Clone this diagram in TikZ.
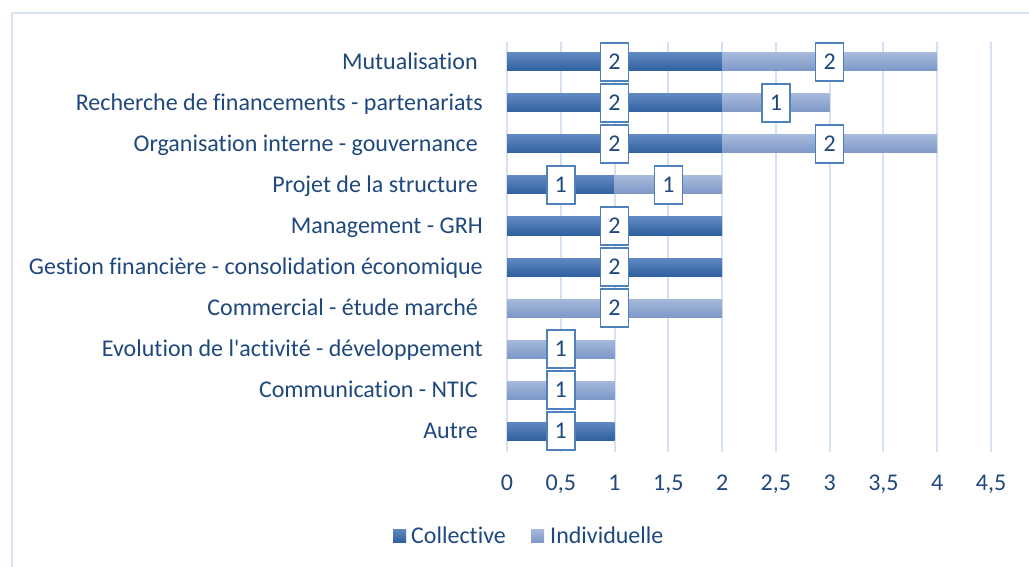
\documentclass[tikz,border=0pt]{standalone}
\usepackage{fontspec}
\setmainfont{Carlito}[Ligatures={TeXOff,NoCommon}]
\definecolor{txt}{HTML}{1F497D}
\definecolor{gridc}{HTML}{D4E1F4}
\definecolor{framec}{HTML}{D9E4F3}
\definecolor{colltop}{HTML}{6089C1}
\definecolor{collbot}{HTML}{30609F}
\definecolor{indtop}{HTML}{A6B9DC}
\definecolor{indbot}{HTML}{7D97C7}
\definecolor{boxc}{HTML}{4F81BD}
\begin{document}
\begin{tikzpicture}[x=1pt,y=-1pt,
  every node/.style={text=txt,font=\fontsize{24}{28}\selectfont},
  gridline/.style={draw=gridc,line width=2pt},
  framel/.style={draw=framec,line width=2pt},
  collbar/.style={top color=colltop,bottom color=collbot},
  indbar/.style={top color=indtop,bottom color=indbot},
  valbox/.style={draw=boxc,fill=white,line width=1.6pt,minimum width=28pt,minimum height=38pt,inner sep=0pt},
  catlab/.style={anchor=base east,inner sep=0pt},
  axlab/.style={anchor=base,inner sep=0pt},
]
\useasboundingbox (0,0) rectangle (1029,567);
\fill[white] (0,0) rectangle (1029,567);
\draw[framel] (12,567) -- (12,13) -- (1029,13);
\foreach \k in {0,...,9} \draw[gridline] ({507+53.78*\k},42) -- ({507+53.78*\k},452);
% rows: index / collective / individual / label right end / text
\foreach \i/\c/\d/\e/\t in {
  0/2/2/478/Mutualisation,
  1/2/1/483/Recherche de financements - partenariats,
  2/2/2/478/Organisation interne - gouvernance,
  3/1/1/478/Projet de la structure,
  4/2/0/483/Management - GRH,
  5/2/0/483/Gestion financière - consolidation économique,
  6/0/2/478/Commercial - étude marché,
  7/0/1/483/Evolution de l'activité - développement,
  8/0/1/478/Communication - NTIC,
  9/1/0/478/Autre}{
  \pgfmathsetmacro{\yy}{62+41*\i}
  \node[catlab] (cat\i) at (\e,\yy+7.5) {\t};
  \ifnum\c>0
    \shade[collbar] (507,\yy-9) rectangle ({507+107.56*\c},\yy+9);
  \fi
  \ifnum\d>0
    \shade[indbar] ({507+107.56*\c},\yy-9) rectangle ({507+107.56*(\c+\d)},\yy+9);
  \fi
  \ifnum\c>0
    \node[valbox] (vc\i) at ({507+107.56*\c/2},\yy) {\c};
  \fi
  \ifnum\d>0
    \node[valbox] (vd\i) at ({507+107.56*(\c+\d/2)},\yy) {\d};
  \fi
}
\foreach \v/\l [count=\n] in {0/0,0.5/{0,5},1/1,1.5/{1,5},2/2,2.5/{2,5},3/3,3.5/{3,5},4/4,4.5/{4,5}}
  \node[axlab] (ax\n) at ({507+107.56*\v},490.5) {\l};
% legend
\shade[collbar] (393,529) rectangle (406,542);
\node[anchor=base west,inner sep=0pt] (legc) at (411,543) {Collective};
\shade[indbar] (531,529) rectangle (544,542);
\node[anchor=base west,inner sep=0pt] (legi) at (550,543) {Individuelle};
\end{tikzpicture}
\end{document}
